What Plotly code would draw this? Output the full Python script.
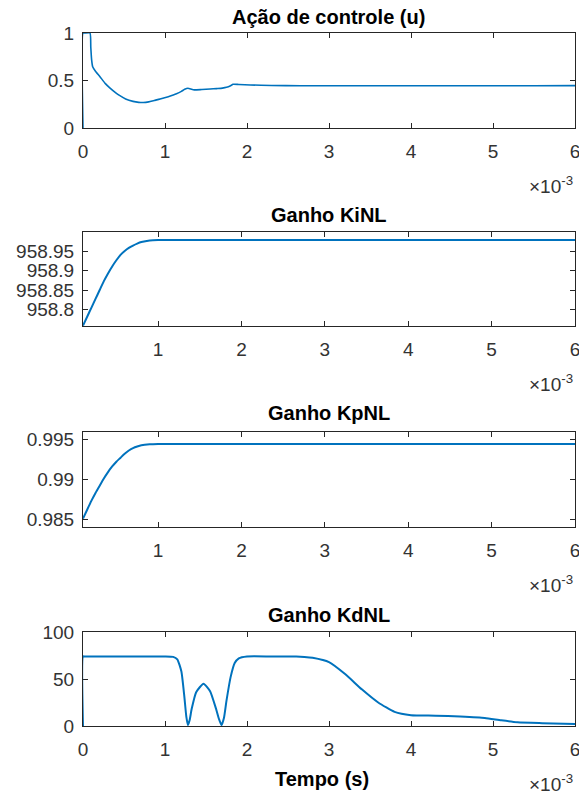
import plotly.graph_objects as go

# ---- data (time in units of 1e-3 s) ----
t_u = [0, 0, 0.02, 0.085, 0.095, 0.105, 0.118, 0.15, 0.207, 0.27, 0.33, 0.4, 0.45, 0.52, 0.61, 0.68, 0.735,
       0.8, 0.87, 0.94, 1.04, 1.14, 1.2, 1.24, 1.28, 1.345, 1.45, 1.55, 1.63, 1.7, 1.75, 1.8, 1.83,
       1.9, 2.04, 2.3, 2.65, 3.0, 3.5, 4.0, 4.5, 5.0, 5.5, 6.0]
u = [0, 1, 1, 1, 0.85, 0.72, 0.645, 0.6, 0.54, 0.47, 0.42, 0.37, 0.34, 0.305, 0.28, 0.27, 0.268,
     0.275, 0.29, 0.305, 0.33, 0.36, 0.385, 0.407, 0.418, 0.402, 0.405, 0.41, 0.415, 0.42, 0.428, 0.445, 0.46,
     0.458, 0.453, 0.448, 0.445, 0.445, 0.444, 0.445, 0.444, 0.445, 0.445, 0.446]

t_ki = [0.1, 0.15, 0.2, 0.25, 0.3, 0.35, 0.4, 0.45, 0.5, 0.55, 0.6, 0.65, 0.7, 0.75, 0.8, 0.9, 1.0, 1.5, 3.0, 6.0]
ki = [958.758, 958.781, 958.804, 958.827, 958.85, 958.873, 958.893, 958.911, 958.927, 958.941,
      958.951, 958.959, 958.965, 958.970, 958.974, 958.978, 958.979, 958.979, 958.979, 958.979]

t_kp = [0.1, 0.15, 0.2, 0.25, 0.3, 0.35, 0.4, 0.45, 0.5, 0.55, 0.6, 0.65, 0.7, 0.75, 0.8, 0.9, 1.0, 1.5, 3.0, 6.0]
kp = [0.9851, 0.9862, 0.9873, 0.9883, 0.9892, 0.9901, 0.9909, 0.9916, 0.9922, 0.9927,
      0.9932, 0.9936, 0.9939, 0.9941, 0.99425, 0.99437, 0.99441, 0.99442, 0.99441, 0.9944]

t_kd = [0, 0, 0.02, 0.5, 1.0, 1.1, 1.15, 1.2, 1.235, 1.26, 1.28, 1.30, 1.325, 1.38, 1.47, 1.55, 1.62,
        1.66, 1.69, 1.72, 1.75, 1.8, 1.85, 1.9,
        2.0, 2.3, 2.6, 2.7, 2.8, 3.0, 3.2, 3.4, 3.6, 3.8, 4.0, 4.3, 4.6, 4.9, 5.1, 5.3, 5.6, 6.0]
kd = [0, 74, 74, 74, 74, 73.5, 71, 58, 32, 10, 1, 6, 18, 36, 45, 37, 19,
      7, 1, 9, 27, 52, 67, 72,
      74, 74, 74, 73.5, 72.5, 68, 55, 39, 25, 15, 11.5, 11, 10, 8.5, 6, 4, 3, 2]

titles = ["Ação de controle (u)", "Ganho KiNL", "Ganho KpNL", "Ganho KdNL"]
x_ticks = [0, 1, 2, 3, 4, 5, 6]
y_ticks = [[0, 0.5, 1], [958.8, 958.85, 958.9, 958.95], [0.985, 0.99, 0.995], [0, 50, 100]]
y_ranges = [[0, 1], [958.757, 959.0], [0.98404, 0.99591], [0, 100]]
x_ranges = [[0, 6], [0.1, 6], [0.1, 6], [0, 6]]

W, H = 579, 795
LEFT, RIGHT = 83, 575
rows_px = [(33, 128), (232, 326), (432, 527), (632, 726)]
title_px = [17, 215, 413, 615]
LINE = "#0072BD"
AX = "#262626"
FONT = "Liberation Sans, Arial, sans-serif"

fig = go.Figure()
series = [(t_u, u, 1.6), (t_ki, ki, 2), (t_kp, kp, 2), (t_kd, kd, 2)]
for i, (tx, ty, lw) in enumerate(series):
    sfx = "" if i == 0 else str(i + 1)
    fig.add_trace(go.Scatter(x=tx, y=ty, mode="lines",
                             line=dict(color=LINE, width=lw, shape="spline", smoothing=0.5),
                             xaxis="x" + sfx, yaxis="y" + sfx, showlegend=False, hoverinfo="skip",
                             cliponaxis=False))

layout = dict(width=W, height=H, margin=dict(l=0, r=0, t=0, b=0),
              paper_bgcolor="white", plot_bgcolor="white",
              font=dict(family=FONT, size=19, color="#333333"))
annotations = []
for i, (top, bot) in enumerate(rows_px):
    sfx = "" if i == 0 else str(i + 1)
    common = dict(showline=True, mirror="ticks", linecolor=AX, linewidth=1, ticks="inside",
                  ticklen=5, tickwidth=1, tickcolor=AX, showgrid=False, zeroline=False,
                  automargin=False, ticklabeloverflow="allow", layer="below traces",
                  tickfont=dict(family=FONT, size=19, color="#333333"))
    layout["xaxis" + sfx] = dict(common, domain=[LEFT / W, RIGHT / W], range=x_ranges[i],
                                 tickvals=x_ticks, ticktext=[str(v) for v in x_ticks],
                                 anchor="y" + sfx, ticklabelstandoff=6)
    layout["yaxis" + sfx] = dict(common, domain=[1 - bot / H, 1 - top / H], range=y_ranges[i],
                                 tickvals=y_ticks[i], ticktext=[f"{v:g}" for v in y_ticks[i]],
                                 anchor="x" + sfx, ticklabelstandoff=4)
    annotations.append(dict(text=f"<b>{titles[i]}</b>", x=(LEFT + RIGHT) / 2 / W, y=1 - title_px[i] / H,
                            xref="paper", yref="paper", showarrow=False, xanchor="center", yanchor="middle",
                            font=dict(family=FONT, size=20, color="black")))
    annotations.append(dict(text="×10<sup>-3</sup>", x=RIGHT / W, y=1 - (bot + 57) / H,
                            xref="paper", yref="paper", showarrow=False, xanchor="right", yanchor="middle",
                            font=dict(family=FONT, size=19, color="#333333")))
annotations.append(dict(text="<b>Tempo (s)</b>", x=322 / W, y=1 - 779 / H, xref="paper", yref="paper",
                        showarrow=False, xanchor="center", yanchor="middle",
                        font=dict(family=FONT, size=20, color="black")))
layout["annotations"] = annotations
fig.update_layout(**layout)
fig.write_html("out.html")
